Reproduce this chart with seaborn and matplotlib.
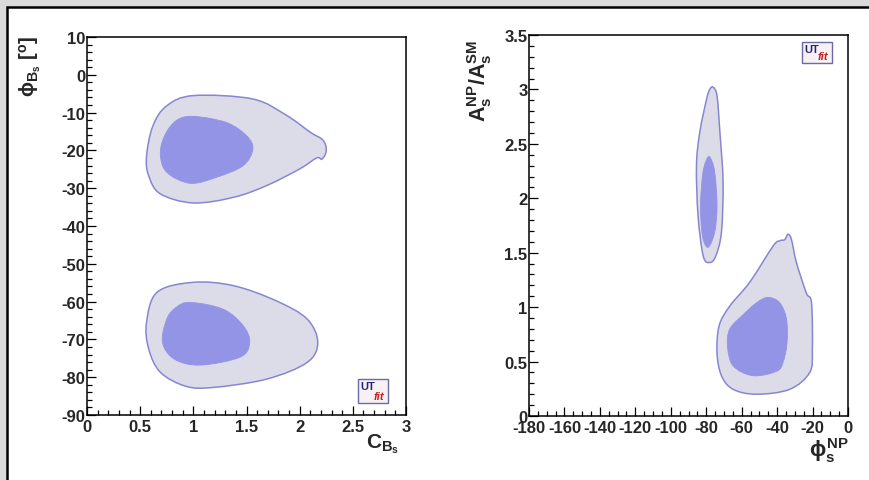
import numpy as np
import pandas as pd
import seaborn as sns
import matplotlib
matplotlib.use("Agg")
import matplotlib.pyplot as plt
from matplotlib.path import Path
from matplotlib.patches import PathPatch, Rectangle
from matplotlib.ticker import MultipleLocator, FixedLocator

# ---------------- contour boundaries (68% inner / 95% outer) ----------------
# Left panel: C_Bs vs phi_Bs [deg]
cb_upper_outer_x = [1.00, 1.56, 1.88, 2.10, 2.22, 2.25, 2.21, 2.16, 2.00, 1.69, 1.38, 1.00, 0.69, 0.58, 0.56, 0.62, 0.75]
cb_upper_outer_y = [-5.5, -6.4, -10.8, -15.2, -17.3, -20.1, -22.3, -22.0, -24.9, -29.3, -32.4, -33.9, -31.5, -26.7, -21.5, -13.5, -8.2]
cb_upper_inner_x = [1.00, 1.31, 1.50, 1.56, 1.47, 1.22, 0.97, 0.75, 0.69, 0.73, 0.84]
cb_upper_inner_y = [-11.0, -12.6, -16.1, -19.6, -24.0, -27.1, -28.7, -25.8, -21.0, -16.1, -12.1]
cb_lower_outer_x = [1.00, 1.38, 1.78, 2.07, 2.17, 2.07, 1.69, 1.19, 0.93, 0.69, 0.58, 0.56, 0.66]
cb_lower_outer_y = [-54.9, -55.8, -59.8, -64.6, -70.8, -76.1, -80.5, -82.7, -82.4, -78.7, -72.5, -65.5, -57.5]
cb_lower_inner_x = [0.97, 1.28, 1.47, 1.53, 1.44, 1.06, 0.82, 0.71, 0.75, 0.84]
cb_lower_inner_y = [-60.2, -62.0, -66.4, -70.8, -74.7, -76.8, -75.2, -70.8, -64.6, -61.5]

# Right panel: phi_s^NP [deg] vs A_s^NP / A_s^SM
np_upper_outer_x = [-76.1, -73.9, -72.3, -70.5, -71.4, -74.6, -78.0, -81.7, -84.6, -85.5, -83.6, -79.8, -78.0]
np_upper_outer_y = [3.02, 2.94, 2.61, 2.15, 1.69, 1.47, 1.41, 1.47, 1.84, 2.30, 2.61, 2.91, 3.00]
np_upper_inner_x = [-78.0, -75.2, -73.9, -75.2, -78.9, -82.1, -83.2, -82.1, -80.2]
np_upper_inner_y = [2.38, 2.24, 1.93, 1.69, 1.55, 1.65, 1.93, 2.21, 2.34]
np_lower_outer_x = [-33.8, -31.9, -29.1, -23.5, -20.6, -20.1, -21.6, -32.9, -51.6, -64.8, -71.4, -73.9, -72.7, -66.7, -55.4, -42.3, -38.5, -35.7]
np_lower_outer_y = [1.67, 1.62, 1.41, 1.13, 1.04, 0.61, 0.40, 0.245, 0.20, 0.245, 0.37, 0.58, 0.83, 1.01, 1.23, 1.56, 1.61, 1.62]
np_lower_inner_x = [-45.1, -38.5, -34.7, -34.4, -36.7, -40.4, -53.6, -64.8, -68.0, -66.7, -59.2, -51.6]
np_lower_inner_y = [1.09, 1.04, 0.89, 0.67, 0.49, 0.41, 0.37, 0.46, 0.64, 0.80, 0.93, 1.04]

# ---------------- axis ticks ----------------
left_xticks = [0, 0.5, 1, 1.5, 2, 2.5, 3]
left_xticklabels = ["0", "0.5", "1", "1.5", "2", "2.5", "3"]
left_yticks = [-90, -80, -70, -60, -50, -40, -30, -20, -10, 0, 10]
left_yticklabels = ["-90", "-80", "-70", "-60", "-50", "-40", "-30", "-20", "-10", "0", "10"]
right_xticks = [-180, -160, -140, -120, -100, -80, -60, -40, -20, 0]
right_xticklabels = ["-180", "-160", "-140", "-120", "-100", "-80", "-60", "-40", "-20", "0"]
right_yticks = [0, 0.5, 1, 1.5, 2, 2.5, 3, 3.5]
right_yticklabels = ["0", "0.5", "1", "1.5", "2", "2.5", "3", "3.5"]

OUTER_FACE = "#dcdce8"
INNER_FACE = "#9494e6"
EDGE = "#8686d2"

regions = pd.DataFrame([
    ("left", "outer", cb_upper_outer_x, cb_upper_outer_y),
    ("left", "inner", cb_upper_inner_x, cb_upper_inner_y),
    ("left", "outer", cb_lower_outer_x, cb_lower_outer_y),
    ("left", "inner", cb_lower_inner_x, cb_lower_inner_y),
    ("right", "outer", np_upper_outer_x, np_upper_outer_y),
    ("right", "inner", np_upper_inner_x, np_upper_inner_y),
    ("right", "outer", np_lower_outer_x, np_lower_outer_y),
    ("right", "inner", np_lower_inner_x, np_lower_inner_y),
], columns=["panel", "level", "x", "y"])


def closed_curve(xs, ys):
    """Closed cubic Bezier path running through the boundary vertices."""
    p = np.column_stack([xs, ys]).astype(float)
    n = len(p)
    verts = [p[0]]
    codes = [Path.MOVETO]
    for i in range(n):
        p0, p1, p2, p3 = p[i - 1], p[i], p[(i + 1) % n], p[(i + 2) % n]
        verts += [p1 + (p2 - p0) / 6.0, p2 - (p3 - p1) / 6.0, p2]
        codes += [Path.CURVE4] * 3
    return Path(verts, codes)


sns.set_theme(style="ticks")
plt.rcParams["font.family"] = ["Liberation Sans", "DejaVu Sans"]
plt.rcParams.update({
    "font.weight": "bold",
    "axes.unicode_minus": False,
    "mathtext.fontset": "custom",
    "mathtext.rm": "Liberation Sans:bold",
    "mathtext.bf": "Liberation Sans:bold",
    "mathtext.it": "Liberation Sans:bold",
    "mathtext.sf": "Liberation Sans:bold",
    "mathtext.fallback": "stixsans",
})

W, H = 869, 481
fig = plt.figure(figsize=(W / 100, H / 100), dpi=100, facecolor="#dadada")

# white canvas with dark border, kept behind both axes
fig.patches.append(Rectangle((7 / W, -0.1), 1.05, 1 - 8 / H + 0.1, transform=fig.transFigure,
                             facecolor="white", edgecolor="black", lw=1.8, zorder=-5))

ax1 = fig.add_axes([87 / W, 1 - 416 / H, 319 / W, 378 / H])
ax2 = fig.add_axes([529 / W, 1 - 417 / H, 319 / W, 381 / H])
axes = {"left": ax1, "right": ax2}

for ax in (ax1, ax2):
    ax.set_facecolor("white")
    for s in ax.spines.values():
        s.set_linewidth(1.1)
        s.set_color("black")

for level in ["outer", "inner"]:
    for _, row in regions[regions["level"] == level].iterrows():
        ax = axes[row["panel"]]
        path = closed_curve(row["x"], row["y"])
        if level == "outer":
            patch = PathPatch(path, facecolor=OUTER_FACE, edgecolor=EDGE, lw=1.1, zorder=2)
        else:
            patch = PathPatch(path, facecolor=INNER_FACE, edgecolor=INNER_FACE, lw=0.6, zorder=3)
        ax.add_patch(patch)

# ---- left axes ----
ax1.set_xlim(0, 3)
ax1.set_ylim(-90, 10)
ax1.xaxis.set_major_locator(FixedLocator(left_xticks))
ax1.set_xticklabels(left_xticklabels)
ax1.xaxis.set_minor_locator(MultipleLocator(0.1))
ax1.yaxis.set_major_locator(FixedLocator(left_yticks))
ax1.set_yticklabels(left_yticklabels)
ax1.yaxis.set_minor_locator(MultipleLocator(2))

# ---- right axes ----
ax2.set_xlim(-180, 0)
ax2.set_ylim(0, 3.5)
ax2.xaxis.set_major_locator(FixedLocator(right_xticks))
ax2.set_xticklabels(right_xticklabels)
ax2.xaxis.set_minor_locator(MultipleLocator(5))
ax2.yaxis.set_major_locator(FixedLocator(right_yticks))
ax2.set_yticklabels(right_yticklabels)
ax2.yaxis.set_minor_locator(MultipleLocator(0.1))

for ax in (ax1, ax2):
    ax.tick_params(which="both", direction="in", top=False, right=False, color="black", width=0.9)
    ax.tick_params(which="major", length=6.5, labelsize=12)
    ax.tick_params(which="minor", length=3.4)
    ax.tick_params(axis="y", pad=1.0)
    ax.tick_params(axis="x", pad=3.0)
    for lab in ax.get_xticklabels() + ax.get_yticklabels():
        lab.set_fontweight("bold")


def px(x, y):
    return x / W, 1 - y / H


# axis titles
fig.text(*px(399, 432), r"$\mathbf{C}_{\mathbf{B_s}}$", ha="right", va="top", fontsize=15)
fig.text(*px(30, 36), r"$\phi_{\mathbf{B_s}}\ \mathbf{[^{o}]}$", ha="center", va="top",
         rotation=90, fontsize=14.5)
fig.text(*px(480, 40), r"$\mathbf{A_s^{NP}/A_s^{SM}}$", ha="center", va="top",
         rotation=90, fontsize=15.5)
fig.text(*px(849, 436), r"$\phi_{\mathbf{s}}^{\mathbf{NP}}$", ha="right", va="top", fontsize=15.5)


def logo(x0, y0, w, h):
    fig.patches.append(Rectangle(px(x0, y0 + h), w / W, h / H, transform=fig.transFigure,
                                 facecolor="#f7f1f5", edgecolor="#6a6aa6", lw=1.0, zorder=5))
    fig.text(*px(x0 + 2, y0 + 2), "UT", ha="left", va="top", fontsize=8,
             color="#26266e", fontweight="bold", zorder=6)
    fig.text(*px(x0 + 16, y0 + h - 2), "fit", ha="left", va="bottom", fontsize=8,
             color="#c02020", fontstyle="italic", fontweight="bold", zorder=6)


logo(358, 380, 30, 24)
logo(802, 43, 30, 21)

fig.savefig("out.png", dpi=100, facecolor=fig.get_facecolor())
